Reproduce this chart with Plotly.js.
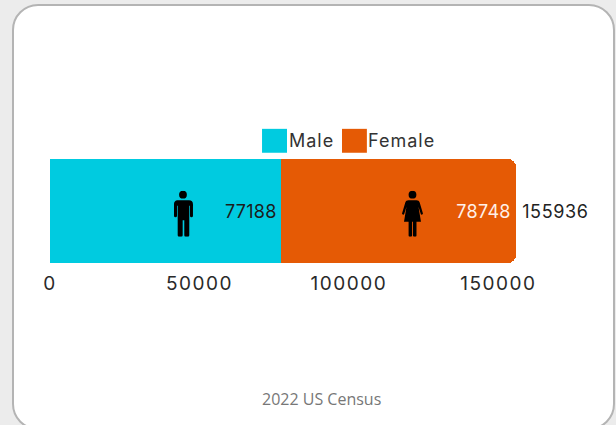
<!DOCTYPE html>
<html>
<head>
<meta charset="utf-8">
<script src="https://cdn.plot.ly/plotly-3.0.1.min.js"></script>
<style>
html,body{margin:0;padding:0;width:616px;height:425px;overflow:hidden;background:#ececec}
#card{position:absolute;left:12px;top:4px;width:599px;height:422px;border:2px solid #b4b4b4;border-radius:26px;background:#fff}
#chart{position:absolute;left:0;top:0;width:616px;height:425px}
#chart .xtick text{letter-spacing:1.5px}
#chart .annotation[data-index="0"] text{letter-spacing:.6px}
#chart .annotation[data-index="1"] text,#chart .annotation[data-index="2"] text{letter-spacing:1px}
#chart .barlayer .trace text{letter-spacing:.3px}
#chart .barlayer .trace:nth-child(1) text{translate:-1.7px .5px}
#chart .barlayer .trace:nth-child(2) text{translate:2px .5px}
</style>
</head>
<body>
<div id="card"></div>
<div id="chart"></div>
<script>
const category = ["Population"];
const seriesNames = ["Male", "Female"];
const maleValues = [77188];
const femaleValues = [78748];
const totalValues = [155936];
const tickValues = [0, 50000, 100000, 150000];
const tickLabels = ["0", "50000", "100000", "150000"];
const iconPositions = [44500, 121300];
const sourceText = "2022 US Census";
const colors = ["#00cbe0", "#e55a05"];

const maleIcon = "data:image/svg+xml;utf8," + encodeURIComponent(
 '<svg xmlns="http://www.w3.org/2000/svg" viewBox="0 0 20 46"><circle cx="10" cy="4" r="3.9" fill="#000"/><path d="M4 9.5h12a4 4 0 0 1 4 4v11.5a1.5 1.5 0 0 1-3 0V15h-.7v29.5a1.5 1.5 0 0 1-1.5 1.5h-2a1.5 1.5 0 0 1-1.5-1.5V29.5h-1.6v15A1.5 1.5 0 0 1 8.2 46h-2a1.5 1.5 0 0 1-1.5-1.5V15H4v10a1.5 1.5 0 0 1-3 0V13.5a4 4 0 0 1 3-4z" fill="#000"/></svg>');
const femaleIcon = "data:image/svg+xml;utf8," + encodeURIComponent(
 '<svg xmlns="http://www.w3.org/2000/svg" viewBox="0 0 21 46"><circle cx="10.5" cy="4" r="3.9" fill="#000"/><path d="M6.5 9.5h8c1.7 0 2.6.8 3.2 2.2l3.2 10.8a1.1 1.1 0 0 1-2.1.7L16.5 16 19 31H14.5V44.8a1.2 1.2 0 0 1-1.2 1.2h-1.1a1.2 1.2 0 0 1-1.2-1.2V31h-.9V44.8A1.2 1.2 0 0 1 8.9 46H7.8a1.2 1.2 0 0 1-1.2-1.2V31H2L4.5 16 2.2 23.2a1.1 1.1 0 0 1-2.1-.7L3.3 11.7c.6-1.4 1.5-2.2 3.2-2.2z" fill="#000"/></svg>');

const font = "Inter, 'Noto Sans', sans-serif";
const traces = [
  {type:"bar", orientation:"h", name:seriesNames[0], y:category, x:maleValues,
   text:maleValues.map(String), textposition:"inside", insidetextanchor:"end", constraintext:"none",
   textangle:0, insidetextfont:{family:font,size:18,color:"#1c1c1c"},
   marker:{color:colors[0]}, hoverinfo:"x+name"},
  {type:"bar", orientation:"h", name:seriesNames[1], y:category, x:femaleValues,
   text:femaleValues.map(String), textposition:"inside", insidetextanchor:"end", constraintext:"none",
   textangle:0, insidetextfont:{family:font,size:18,color:"#fff0e8"},
   marker:{color:colors[1]}, hoverinfo:"x+name"}
];

const layout = {
  width:616, height:425, showlegend:false,
  paper_bgcolor:"rgba(0,0,0,0)", plot_bgcolor:"rgba(0,0,0,0)",
  margin:{l:50,r:100,t:159,b:162,pad:0},
  barmode:"stack", bargap:0, barcornerradius:8,
  font:{family:font,size:18,color:"#222"},
  xaxis:{range:[0,totalValues[0]], tickvals:tickValues, ticktext:tickLabels, showgrid:false, zeroline:false,
         showline:false, ticks:"outside", ticklen:3, tickcolor:"rgba(0,0,0,0)", tickfont:{family:font,size:19,color:"#2a2a2a"}},
  yaxis:{visible:false, type:"category"},
  images:[
    {source:maleIcon, xref:"x", yref:"paper", x:iconPositions[0], y:0.474, sizex:15000, sizey:0.442, xanchor:"center", yanchor:"middle", sizing:"contain", layer:"above"},
    {source:femaleIcon, xref:"x", yref:"paper", x:iconPositions[1], y:0.474, sizex:15000, sizey:0.442, xanchor:"center", yanchor:"middle", sizing:"contain", layer:"above"}
  ],
  shapes:[
    {type:"rect", xref:"paper", yref:"paper", x0:0.455, x1:0.5086, y0:1.29, y1:1.06, fillcolor:colors[0], line:{width:0}},
    {type:"rect", xref:"paper", yref:"paper", x0:0.6266, x1:0.680, y0:1.29, y1:1.06, fillcolor:colors[1], line:{width:0}}
  ],
  annotations:[
    {x:totalValues[0], y:category[0], xref:"x", yref:"y", text:String(totalValues[0]), showarrow:false, xanchor:"left", xshift:5.5,
     font:{family:font,size:18,color:"#222"}},
    {xref:"paper", yref:"paper", x:0.5135, y:1.175, text:seriesNames[0], showarrow:false, xanchor:"left", yanchor:"middle", font:{family:font,size:18,color:"#333"}},
    {xref:"paper", yref:"paper", x:0.6835, y:1.175, text:seriesNames[1], showarrow:false, xanchor:"left", yanchor:"middle", font:{family:font,size:18,color:"#333"}},
    {xref:"paper", yref:"paper", x:0.5826, y:-1.31, text:sourceText, showarrow:false, xanchor:"center", yanchor:"middle", font:{family:"'Open Sans', sans-serif",size:16,color:"#777"}}
  ]
};
Plotly.newPlot("chart", traces, layout, {displayModeBar:false, staticPlot:true});
</script>
</body>
</html>
